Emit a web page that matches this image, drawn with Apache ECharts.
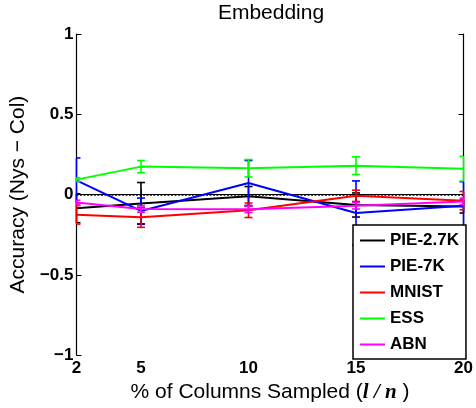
<!DOCTYPE html>
<html>
<head>
<meta charset="utf-8">
<script src="https://cdn.jsdelivr.net/npm/echarts@6/dist/echarts.min.js"></script>
<style>html,body{margin:0;padding:0;background:#fff}#c{width:476px;height:408px}</style>
</head>
<body>
<div id="c"></div>
<script>
var xValues = [2, 5, 10, 15, 20];
var xTickLabels = [2, 5, 10, 15, 20];
var yTickLabels = [-1, -0.5, 0, 0.5, 1];
var seriesNames = ['PIE-2.7K', 'PIE-7K', 'MNIST', 'ESS', 'ABN'];
var seriesColors = ['#000000', '#0000ff', '#ff0000', '#00ff00', '#ff00ff'];
var pie27 = [-0.085, -0.055, -0.01, -0.065, -0.075];
var pie27Err = [0.09, 0.13, 0.06, 0.075, 0.04];
var pie7 = [0.088, -0.102, 0.072, -0.115, -0.07];
var pie7Err = [0.14, 0.08, 0.14, 0.2, 0.15];
var mnist = [-0.126, -0.142, -0.098, -0.008, -0.038];
var mnistErr = [0.058, 0.062, 0.045, 0.035, 0.057];
var ess = [0.093, 0.174, 0.164, 0.18, 0.161];
var essErr = [0.012, 0.038, 0.054, 0.055, 0.077];
var abn = [-0.05, -0.09, -0.092, -0.07, -0.043];
var abnErr = [0.015, 0.02, 0.02, 0.02, 0.02];

var means = [pie27, pie7, mnist, ess, abn];
var errs = [pie27Err, pie7Err, mnistErr, essErr, abnErr];

var chart = echarts.init(document.getElementById('c'), null, {renderer: 'canvas'});

function errRender(color) {
  return function (params, api) {
    var x = api.value(0), lo = api.value(1), hi = api.value(2);
    var p1 = api.coord([x, hi]), p2 = api.coord([x, lo]);
    var cs = params.coordSys;
    var w = 4;
    var xl = Math.max(cs.x, p1[0] - w), xr = Math.min(cs.x + cs.width, p1[0] + w);
    var st = {stroke: color, lineWidth: 1.6};
    return {type: 'group', children: [
      {type: 'line', shape: {x1: p1[0], y1: p1[1], x2: p2[0], y2: p2[1]}, style: st},
      {type: 'line', shape: {x1: xl, y1: p1[1], x2: xr, y2: p1[1]}, style: st},
      {type: 'line', shape: {x1: xl, y1: p2[1], x2: xr, y2: p2[1]}, style: st}
    ]};
  };
}

var series = [];
for (var i = 0; i < seriesNames.length; i++) {
  var lineData = xValues.map(function (x, j) { return [x, means[i][j]]; });
  var errData = xValues.map(function (x, j) { return [x, means[i][j] - errs[i][j], means[i][j] + errs[i][j]]; });
  var s = {
    name: seriesNames[i], type: 'line', data: lineData, showSymbol: false, symbol: 'none',
    lineStyle: {color: seriesColors[i], width: 2}, itemStyle: {color: seriesColors[i]},
    z: 3 + i * 2, animation: false
  };
  if (i === 0) {
    s.markLine = {silent: true, symbol: 'none', label: {show: false},
      lineStyle: {color: '#000', type: [2, 1.5], width: 1.5}, data: [{yAxis: 0}]};
  }
  series.push({
    name: seriesNames[i] + ' err', type: 'custom', data: errData,
    renderItem: errRender(seriesColors[i]), z: 3 + i * 2, animation: false
  });
  series.push(s);
}

var SANS = 'Liberation Sans, Arial, sans-serif';
var tickFont = {color: '#000', fontWeight: 'bold', fontSize: 17, fontFamily: SANS};
function fmt(v) { return String(v).replace('-', '\u2212'); }

chart.setOption({
  animation: false,
  backgroundColor: '#fff',
  grid: {left: 75, right: 10, top: 34, bottom: 48, containLabel: false},
  graphic: [{type: 'text', x: 271, y: 13, style: {text: 'Embedding', align: 'center', verticalAlign: 'middle',
    fontSize: 21, fontFamily: SANS, fill: '#000'}}],
  legend: {
    data: seriesNames, orient: 'vertical', left: 353, top: 225, z: 30, zlevel: 0,
    icon: 'rect', itemWidth: 25, itemHeight: 2, itemGap: 9, itemTextGap: 5,
    padding: [7, 7, 6, 7], borderColor: '#000', borderWidth: 1.5, backgroundColor: '#fff',
    textStyle: {color: '#000', fontWeight: 'bold', fontSize: 17, fontFamily: SANS},
    selectedMode: false
  },
  xAxis: [{
    type: 'value', min: 2, max: 20, position: 'bottom',
    name: '{n|% of Columns Sampled (}{m|l / n}{n| )}', nameLocation: 'middle', nameGap: 24,
    nameTextStyle: {rich: {
      n: {fontSize: 21, fontFamily: SANS, color: '#000'},
      m: {fontSize: 21, fontFamily: 'Liberation Serif, Times New Roman, serif', fontStyle: 'italic', fontWeight: 'bold', color: '#000'}
    }},
    axisLine: {show: true, lineStyle: {color: '#000', width: 1.2}},
    axisTick: {show: true, inside: true, length: 5, customValues: [5, 10, 15], lineStyle: {color: '#000'}},
    axisLabel: Object.assign({customValues: xTickLabels, margin: 5}, tickFont),
    splitLine: {show: false}
  }, {
    type: 'value', min: 2, max: 20, position: 'top',
    axisLine: {show: true, lineStyle: {color: '#000', width: 1.2}},
    axisTick: {show: true, inside: true, length: 5, customValues: [5, 10, 15], lineStyle: {color: '#000'}},
    axisLabel: {show: false}, splitLine: {show: false}
  }],
  yAxis: [{
    type: 'value', min: -1, max: 1, interval: 0.5, position: 'left',
    name: 'Accuracy (Nys \u2212 Col)', nameLocation: 'middle', nameGap: 42, nameRotate: 90,
    nameTextStyle: {fontSize: 21, fontFamily: SANS, color: '#000'},
    axisLine: {show: true, lineStyle: {color: '#000', width: 1.2}},
    axisTick: {show: true, inside: true, length: 5, lineStyle: {color: '#000'}},
    axisLabel: Object.assign({formatter: fmt, margin: 3, customValues: yTickLabels}, tickFont),
    splitLine: {show: false}
  }, {
    type: 'value', min: -1, max: 1, interval: 0.5, position: 'right',
    axisLine: {show: true, lineStyle: {color: '#000', width: 1.2}},
    axisTick: {show: true, inside: true, length: 5, lineStyle: {color: '#000'}},
    axisLabel: {show: false}, splitLine: {show: false}
  }],
  series: series
});
</script>
</body>
</html>
